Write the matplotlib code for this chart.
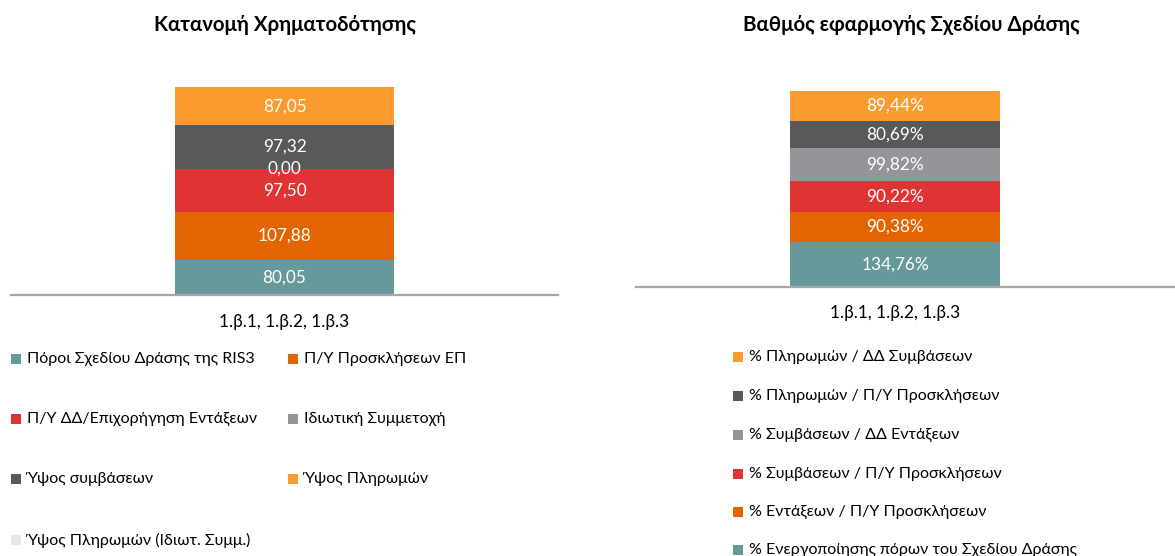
import matplotlib
matplotlib.use("Agg")
import matplotlib.pyplot as plt
from matplotlib.patches import Rectangle

plt.rcParams['font.family'] = ['Lato', 'DejaVu Sans']

# ---------------- data ----------------
category = ["1.β.1, 1.β.2, 1.β.3"]

left_title = "Κατανομή Χρηματοδότησης"
left_series = [
    "Πόροι Σχεδίου Δράσης της RIS3",
    "Π/Υ Προσκλήσεων ΕΠ",
    "Π/Υ ΔΔ/Επιχορήγηση Εντάξεων",
    "Ιδιωτική Συμμετοχή",
    "Ύψος συμβάσεων",
    "Ύψος Πληρωμών",
    "Ύψος Πληρωμών (Ιδιωτ. Συμμ.)",
]
left_values = [80.05, 107.88, 97.50, 0.00, 97.32, 87.05, None]
left_colors = ["#669999", "#E46400", "#E03333", "#939598", "#58595B", "#F99B2F", "#E6E6E6"]

right_title = "Βαθμός εφαρμογής Σχεδίου Δράσης"
right_series = [
    "% Ενεργοποίησης πόρων του Σχεδίου Δράσης",
    "% Εντάξεων / Π/Υ Προσκλήσεων",
    "% Συμβάσεων / Π/Υ Προσκλήσεων",
    "% Συμβάσεων / ΔΔ Εντάξεων",
    "% Πληρωμών / Π/Υ Προσκλήσεων",
    "% Πληρωμών / ΔΔ Συμβάσεων",
]
right_values = [134.76, 90.38, 90.22, 99.82, 80.69, 89.44]
right_colors = ["#669999", "#E46400", "#E03333", "#939598", "#58595B", "#F99B2F"]

# ---------------- figure ----------------
W, H = 1175, 556
fig = plt.figure(figsize=(W / 100, H / 100), dpi=100)

def fx(px):
    return px / W

def fy(py):
    return 1 - py / H

FS = 11.5      # legend text
NFS = 12.4     # numbers / tick labels
AXIS_COLOR = "#A6A6A6"

def stacked(ax, values, colors, fmt, pct=False, pad=13):
    bottom = 0.0
    for v, c in zip(values, colors):
        h = 0.0 if v is None else v
        bars = ax.bar(category, [h], width=0.4, bottom=bottom, color=c, linewidth=0)
        if v is not None:
            txt = fmt.format(v).replace(".", ",") + ("%" if pct else "")
            ax.bar_label(bars, labels=[txt], label_type="center", color="white", fontsize=NFS)
        bottom += h
    for s in ["top", "left", "right"]:
        ax.spines[s].set_visible(False)
    ax.spines["bottom"].set_color(AXIS_COLOR)
    ax.spines["bottom"].set_linewidth(1.6)
    ax.set_yticks([])
    ax.tick_params(axis="x", length=0, pad=pad, labelsize=NFS, colors="#000000")

# left axes: x 11..558, baseline at y=295, 0.443 px/unit
l_x0, l_x1, l_base, l_ppu = 11, 558, 295, 0.443
l_top = 70
axL = fig.add_axes([fx(l_x0), fy(l_base), fx(l_x1 - l_x0), (l_base - l_top) / H])
stacked(axL, left_values, left_colors, "{:.2f}", pad=13.5)
axL.set_xlim(-0.5, 0.5)
axL.set_ylim(0, (l_base - l_top) / l_ppu)

# right axes: x 636..1175, bar centered at 895, baseline 287, 0.335 px/unit
r_x0, r_x1, r_base, r_ppu = 636, 1175, 287, 0.335
r_top = 70
bar_px = 210
unit = bar_px / 0.4
axR = fig.add_axes([fx(r_x0), fy(r_base), fx(r_x1 - r_x0), (r_base - r_top) / H])
stacked(axR, right_values, right_colors, "{:.2f}", pct=True, pad=13)
axR.set_xlim(-(895 - r_x0) / unit, (r_x1 - 895) / unit)
axR.set_ylim(0, (r_base - r_top) / r_ppu)

# titles
fig.text(fx(285), fy(25), left_title, ha="center", va="center", fontsize=14.7, fontweight="bold")
fig.text(fx(911), fy(25), right_title, ha="center", va="center", fontsize=14.7, fontweight="bold")

# legends (manual layout)
SQ = 10
def legend_item(xm, ym, color, label):
    fig.add_artist(Rectangle((fx(xm), fy(ym + SQ / 2)), fx(SQ), SQ / H,
                             transform=fig.transFigure, color=color, linewidth=0))
    fig.text(fx(xm + SQ + 6), fy(ym), label, ha="left", va="center", fontsize=FS, color="#000000")

# left: 2 columns, row-major
col_x = [11, 288]
row_y = [359, 419, 479, 540]
for i, (lab, col) in enumerate(zip(left_series, left_colors)):
    r, c = divmod(i, 2)
    legend_item(col_x[c], row_y[r], col, lab)

# right: single column, reversed order (top series first)
r_rows = [357, 396, 435, 474, 512, 550]
for i, (lab, col) in enumerate(zip(right_series[::-1], right_colors[::-1])):
    legend_item(733, r_rows[i], col, lab)

fig.savefig("out.png", dpi=100)
